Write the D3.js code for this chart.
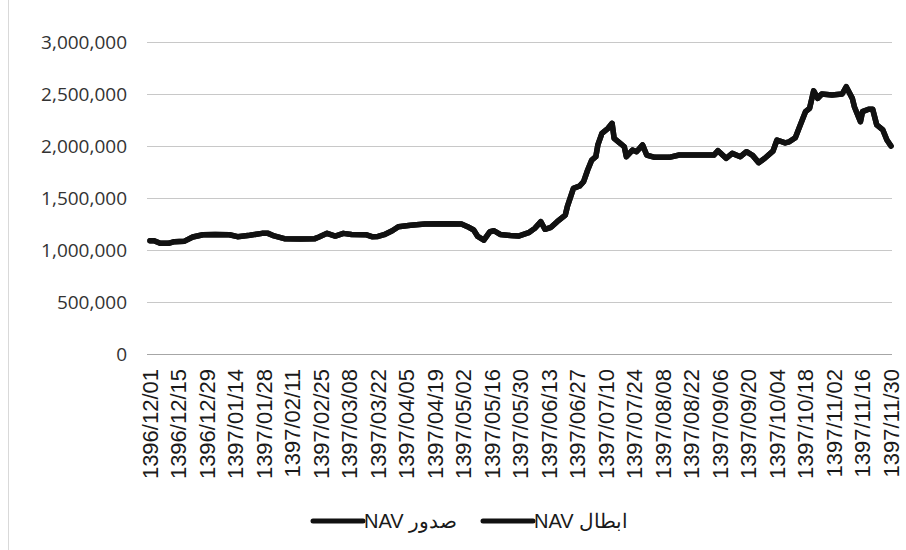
<!DOCTYPE html>
<html>
<head>
<meta charset="utf-8">
<script src="https://cdn.jsdelivr.net/npm/d3@7/dist/d3.min.js"></script>
<style>
  html, body { margin: 0; padding: 0; background: #ffffff; }
  svg { display: block; }
</style>
</head>
<body>
<svg id="chart" width="906" height="550"></svg>
<script>
// ---- data ----
const tickLabels = ["1396/12/01","1396/12/15","1396/12/29","1397/01/14","1397/01/28","1397/02/11","1397/02/25",
  "1397/03/08","1397/03/22","1397/04/05","1397/04/19","1397/05/02","1397/05/16","1397/05/30","1397/06/13",
  "1397/06/27","1397/07/10","1397/07/24","1397/08/08","1397/08/22","1397/09/06","1397/09/20","1397/10/04",
  "1397/10/18","1397/11/02","1397/11/16","1397/11/30"];
const tickStepDays = 14;
const totalDays = 364; // days from 1396/12/01 to 1397/11/30
const yTicks = [0, 500000, 1000000, 1500000, 2000000, 2500000, 3000000];
// day offsets since 1396/12/01 of the sampled points
const dayIndex = [0,2,5,9,12,17,21,26,32,39,43,49,55,58,61,66,74,81,83,87,91,95,99,106,109,112,115,119,122,128,135,145,153,156,159,161,164,167,169,172,177,181,186,189,192,194,197,200,204,205,208,211,213,215,217,219,220,222,225,227,228,231,233,234,237,239,242,244,248,255,260,270,277,279,283,286,290,293,296,299,302,306,308,312,314,317,319,322,324,326,328,330,335,340,342,345,346,349,350,353,355,357,360,362,364];
const navIssue = [1089000,1089000,1064000,1064000,1080000,1085000,1125000,1147000,1150000,1147000,1128000,1141000,1160000,1160000,1135000,1109000,1105000,1109000,1125000,1160000,1134000,1160000,1150000,1147000,1128000,1130000,1147000,1185000,1224000,1238000,1250000,1252000,1250000,1224000,1192000,1130000,1095000,1176000,1185000,1150000,1140000,1134000,1166000,1208000,1272000,1199000,1218000,1272000,1336000,1416000,1593000,1615000,1657000,1769000,1865000,1897000,2010000,2122000,2170000,2218000,2074000,2026000,1993000,1897000,1961000,1945000,2010000,1913000,1891000,1891000,1913000,1913000,1913000,1955000,1882000,1929000,1897000,1945000,1910000,1840000,1882000,1950000,2058000,2030000,2040000,2080000,2180000,2330000,2362000,2530000,2458000,2500000,2490000,2500000,2570000,2458000,2378000,2234000,2330000,2353000,2353000,2202000,2154000,2058000,2000000];
const navRedeem = navIssue; // the two series coincide in the picture
const legendLabels = ["صدور NAV", "ابطال NAV"];

// ---- drawing ----
const svg = d3.select("#chart");
const x = d3.scaleLinear().domain([0, totalDays]).range([150, 891]);
const y = d3.scaleLinear().domain([0, 3000000]).range([354, 42]);

// faint outer frame line on the left
svg.append("line").attr("x1", 8.5).attr("x2", 8.5).attr("y1", 0).attr("y2", 550)
  .attr("stroke", "#d9d9d9").attr("stroke-width", 1);

// gridlines
svg.append("g").selectAll("line").data(yTicks).join("line")
  .attr("x1", 147).attr("x2", 892)
  .attr("y1", d => Math.round(y(d)) + 0.5).attr("y2", d => Math.round(y(d)) + 0.5)
  .attr("stroke", d => d === 0 ? "#a6a6a6" : "#c8c8c8").attr("stroke-width", 1);

// y labels
const fmt = d3.format(",");
svg.append("g").selectAll("text").data(yTicks).join("text")
  .attr("x", 127).attr("y", d => y(d))
  .attr("dy", "0.35em")
  .attr("text-anchor", "end")
  .attr("font-family", "'Open Sans', sans-serif")
  .attr("font-size", 19)
  .attr("fill", "#333333")
  .text(d => fmt(d));

// x labels
svg.append("g").selectAll("text").data(tickLabels).join("text")
  .attr("transform", (d, i) => `translate(${x(i * tickStepDays)},369) rotate(-90)`)
  .attr("dy", "0.36em")
  .attr("text-anchor", "end")
  .attr("font-family", "'Liberation Sans', Arial, sans-serif")
  .attr("font-size", 22)
  .attr("fill", "#1a1a1a")
  .text(d => d);

// lines
const line = d3.line().x((d, i) => x(dayIndex[i])).y(d => y(d)).curve(d3.curveLinear);
[navRedeem, navIssue].forEach(series => {
  svg.append("path").datum(series)
    .attr("d", line)
    .attr("fill", "none")
    .attr("stroke", "#111")
    .attr("stroke-width", 5.5)
    .attr("stroke-linejoin", "round")
    .attr("stroke-linecap", "round");
});

// legend
const legendItems = [{lx: 313, label: legendLabels[0]}, {lx: 483, label: legendLabels[1]}];
const lg = svg.append("g");
legendItems.forEach(it => {
  lg.append("line").attr("x1", it.lx).attr("x2", it.lx + 50).attr("y1", 521).attr("y2", 521)
    .attr("stroke", "#111").attr("stroke-width", 5).attr("stroke-linecap", "round");
  lg.append("text").attr("x", it.lx + 51).attr("y", 521).attr("dy", "0.35em")
    .attr("direction", "rtl").attr("text-anchor", "end")
    .attr("font-family", "'Liberation Sans', Arial, sans-serif")
    .attr("font-size", 20).attr("fill", "#1a1a1a")
    .text(it.label);
});
</script>
</body>
</html>
